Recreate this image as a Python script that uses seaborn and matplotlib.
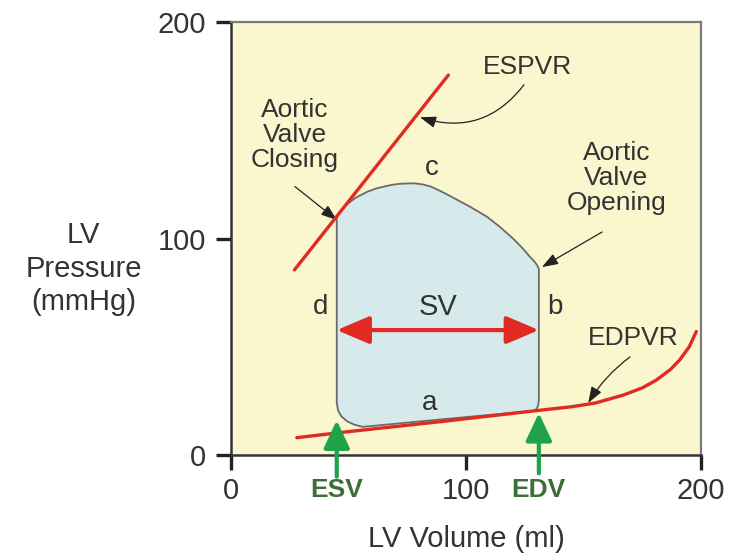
import matplotlib
matplotlib.use("Agg")
import matplotlib.pyplot as plt
import pandas as pd
import seaborn as sns

# Left-ventricular pressure-volume loop (volume in ml, pressure in mmHg)
esv = 45
edv = 131
sv_pressure = 57.7

loop_volume = [129.5, 130.6, 131, 131, 130.2, 129, 127, 124, 120, 114.5, 109,
               102, 96, 91.5, 88, 85, 81.5, 78, 72, 68, 62, 58, 53, 49, 46.5,
               45, 45, 45.6, 47, 49.5, 52.5, 56, 90, 129.5]
loop_pressure = [20.5, 22.5, 25, 86, 87.8, 89.5, 91.8, 95.6, 100, 105.3, 110,
                 114.5, 118, 120.6, 122.5, 124, 125, 125.5, 125.3, 124.7, 123.2,
                 121.6, 118.8, 115.5, 112.5, 110, 24, 20.5, 17.8, 15.5, 14, 13,
                 16.5, 20.5]

# End-systolic pressure-volume relationship
espvr_volume = [27, 92.5]
espvr_pressure = [85.5, 175.5]

# End-diastolic pressure-volume relationship
edpvr_volume = [28, 50, 90, 130, 145, 155, 167, 175, 181, 187, 191, 195, 198]
edpvr_pressure = [8, 10.8, 15.5, 20.5, 22.3, 24, 27.7, 31, 34.6, 39.5, 44, 50, 57]

x_ticks = [0, 100, 200]
y_ticks = [0, 100, 200]

sns.set_theme(style="ticks")
plt.rcParams["font.family"] = ["Liberation Sans", "DejaVu Sans"]

TEXT = "#333333"
RED = "#E02A22"
GREEN_ARROW = "#1FA34A"
GREEN_TEXT = "#3C6E38"

fig = plt.figure(figsize=(7.3, 5.55), dpi=100)
ax = fig.add_axes([231 / 730, 1 - 455 / 555, 470 / 730, 433 / 555])
ax.set_facecolor("#FAF6CD")

loop = pd.DataFrame({"volume": loop_volume, "pressure": loop_pressure})
espvr = pd.DataFrame({"volume": espvr_volume, "pressure": espvr_pressure})
edpvr = pd.DataFrame({"volume": edpvr_volume, "pressure": edpvr_pressure})

# Loop body and outline
ax.fill(loop["volume"], loop["pressure"], color="#D6EAEC", zorder=2, lw=0)
sns.lineplot(data=loop, x="volume", y="pressure", sort=False, estimator=None,
             color="#6A6A6A", lw=1.3, ax=ax, zorder=3)

# ESPVR / EDPVR
sns.lineplot(data=espvr, x="volume", y="pressure", sort=False, estimator=None,
             color=RED, lw=2.4, ax=ax, zorder=4)
sns.lineplot(data=edpvr, x="volume", y="pressure", sort=False, estimator=None,
             color=RED, lw=2.4, ax=ax, zorder=4)

# Stroke volume arrow
ax.annotate("", xy=(edv, sv_pressure), xytext=(esv, sv_pressure),
            arrowprops=dict(arrowstyle="<|-|>,head_length=0.8,head_width=0.34",
                            mutation_scale=25, color=RED, lw=3,
                            shrinkA=0, shrinkB=0), zorder=5)
ax.text((esv + edv) / 2, 68.5, "SV", fontsize=21, color=TEXT,
        ha="center", va="center", zorder=6)

# Phase letters
ax.text(85.4, 132.5, "c", fontsize=20, color=TEXT, ha="center", va="center")
ax.text(37.9, 68.5, "d", fontsize=20, color=TEXT, ha="center", va="center")
ax.text(138, 68.5, "b", fontsize=20, color=TEXT, ha="center", va="center")
ax.text(84.7, 24, "a", fontsize=20, color=TEXT, ha="center", va="center", zorder=6)

thin = dict(arrowstyle="-|>,head_length=0.7,head_width=0.25", mutation_scale=14,
            color="#222222", lw=0.9, shrinkA=0, shrinkB=0)

ax.text(126, 179, "ESPVR", fontsize=19, color=TEXT, ha="center", va="center")
ax.annotate("", xy=(80.4, 156), xytext=(124.7, 171),
            arrowprops=dict(thin, connectionstyle="arc3,rad=-0.35"))

ax.text(27.2, 148, "Aortic\nValve\nClosing", fontsize=19, color=TEXT,
        ha="center", va="center", linespacing=1.05)
ax.annotate("", xy=(45.1, 108.5), xytext=(27.2, 124), arrowprops=thin)

ax.text(164, 128, "Aortic\nValve\nOpening", fontsize=19, color=TEXT,
        ha="center", va="center", linespacing=1.05)
ax.annotate("", xy=(132.3, 86.8), xytext=(157.9, 103), arrowprops=thin)

ax.text(171, 54, "EDPVR", fontsize=19, color=TEXT, ha="center", va="center")
ax.annotate("", xy=(152, 24), xytext=(169.8, 45.3),
            arrowprops=dict(thin, connectionstyle="arc3,rad=0.1"))

# ESV / EDV markers below the volume axis
green = dict(arrowstyle="-|>,head_length=0.85,head_width=0.4", mutation_scale=20,
             color=GREEN_ARROW, lw=3, shrinkA=0, shrinkB=0)
ax.annotate("", xy=(esv, 16), xytext=(esv, -10), arrowprops=green,
            annotation_clip=False, zorder=7)
ax.annotate("", xy=(edv, 19.4), xytext=(edv, -8.5), arrowprops=green,
            annotation_clip=False, zorder=7)
trans = ax.get_xaxis_transform()
ax.text(esv, -0.081, "ESV", transform=trans, fontsize=19, fontweight="bold",
        color=GREEN_TEXT, ha="center", va="center")
ax.text(edv, -0.081, "EDV", transform=trans, fontsize=19, fontweight="bold",
        color=GREEN_TEXT, ha="center", va="center")

ax.set_xlim(0, 200)
ax.set_ylim(0, 200)
ax.set_xticks(x_ticks)
ax.set_yticks(y_ticks)
ax.tick_params(axis="both", direction="out", length=11, width=2.4,
               color="#222222", labelsize=21, labelcolor=TEXT, pad=7)
ax.tick_params(axis="x", pad=5)

ax.set_xlabel("LV Volume (ml)", fontsize=21, color=TEXT, labelpad=14)
ax.set_ylabel("LV\nPressure\n(mmHg)", fontsize=21, color=TEXT, rotation=0,
              ha="center", va="center", linespacing=1.25)
ax.yaxis.set_label_coords(-0.314, 0.43)

for side in ["left", "bottom"]:
    ax.spines[side].set_color("#333333")
    ax.spines[side].set_linewidth(1.8)
for side in ["top", "right"]:
    ax.spines[side].set_visible(True)
    ax.spines[side].set_color("#7A7A7A")
    ax.spines[side].set_linewidth(1.6)

fig.savefig("out.png", dpi=100)
